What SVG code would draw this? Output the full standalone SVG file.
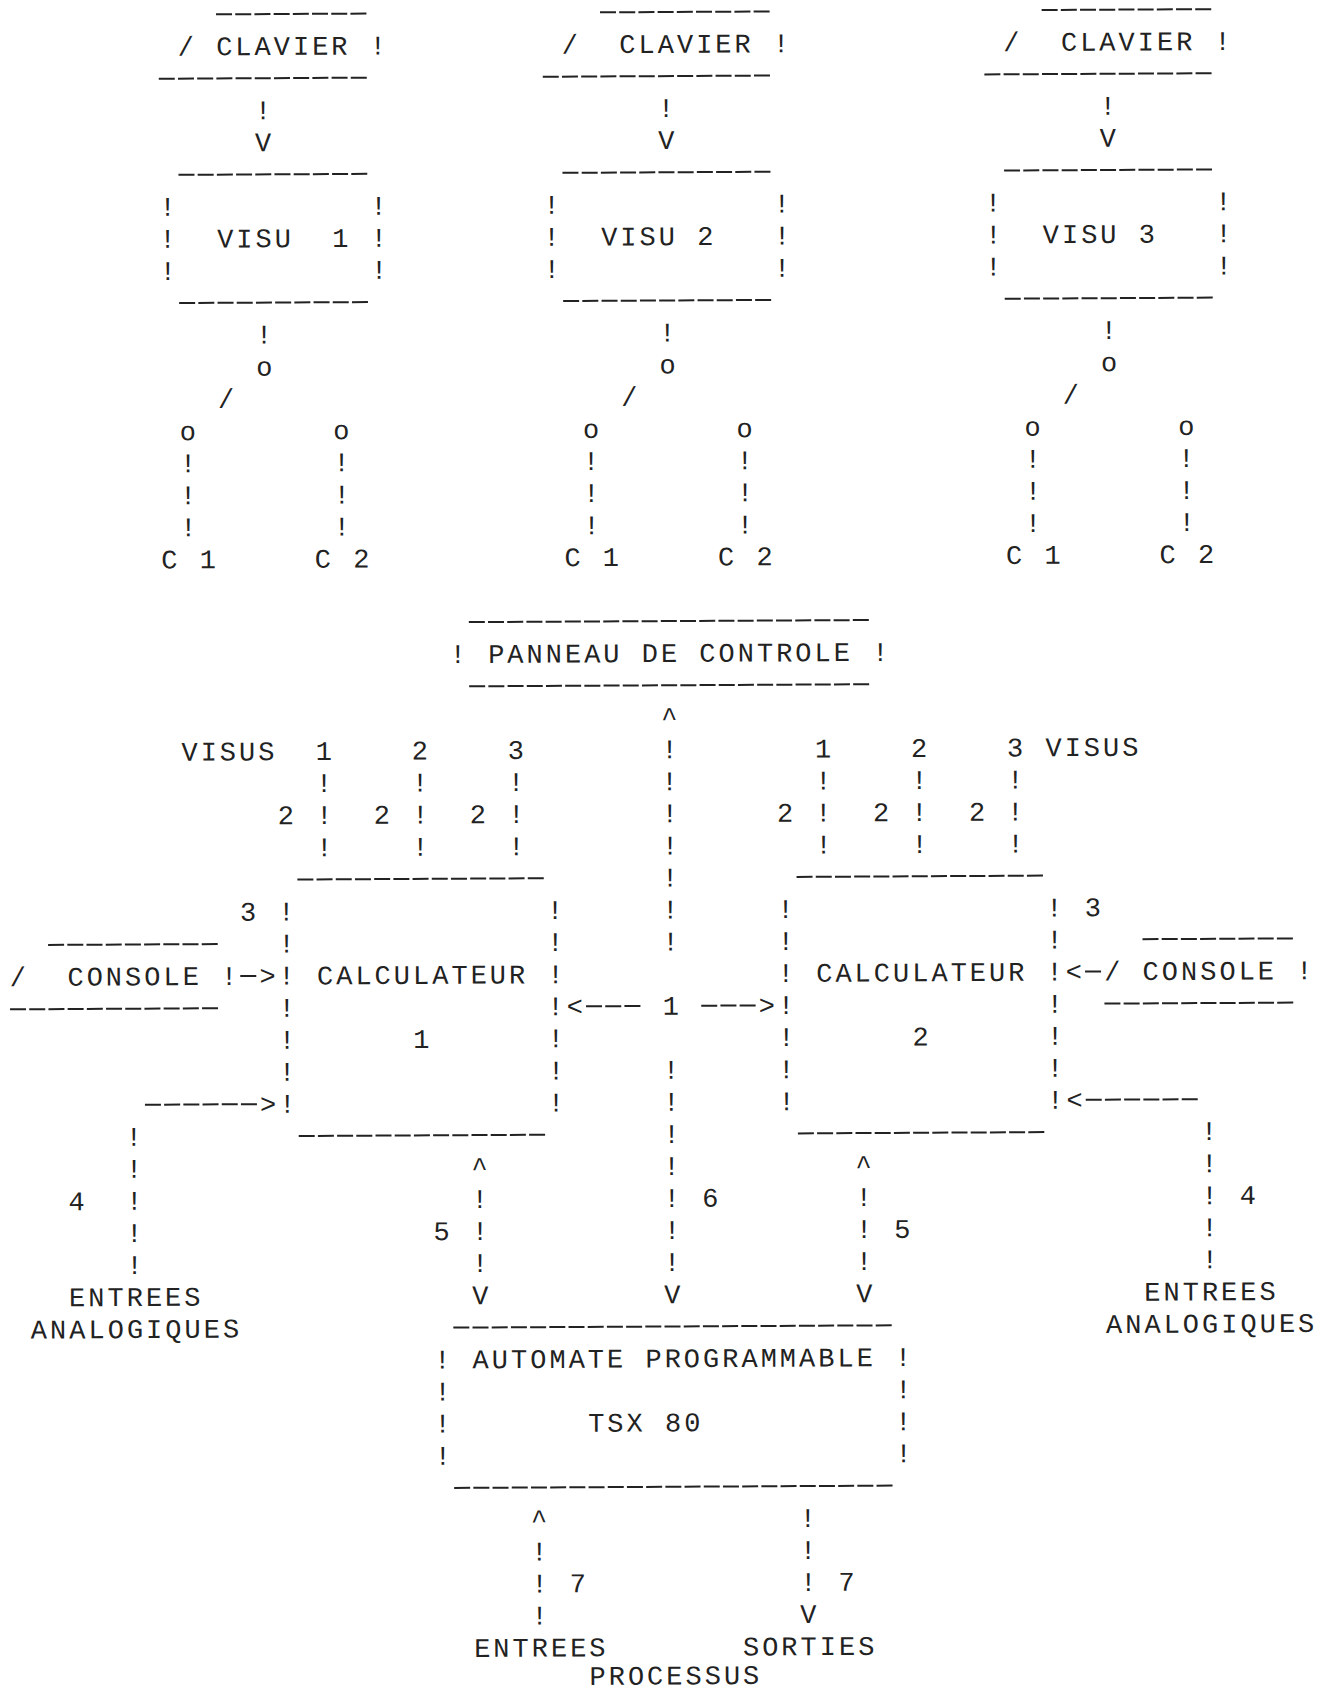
<svg xmlns="http://www.w3.org/2000/svg" width="1331" height="1692" viewBox="0 0 1331 1692">
<style>
.t{font-family:"Liberation Mono","DejaVu Sans Mono",monospace;font-size:27px;letter-spacing:3px;fill:#222}
.d{stroke:#222;stroke-width:2;stroke-dasharray:16 3.2;fill:none}
</style>
<rect width="1331" height="1692" fill="#fff"/>
<g transform="rotate(-0.3 665 846)">
<g id="clavier1">
<line class="d" x1="220.4" y1="12" x2="370.8" y2="12"/>
<line class="d" x1="162.8" y1="76.1" x2="370.8" y2="76.1"/>
<text class="t" x="181.9" y="52.9">/ CLAVIER !</text>
</g>
<g id="clavier2">
<line class="d" x1="604.4" y1="12" x2="774" y2="12"/>
<line class="d" x1="546.8" y1="76.1" x2="774" y2="76.1"/>
<text class="t" x="565.9" y="52.9" xml:space="preserve">/  CLAVIER !</text>
</g>
<g id="clavier3">
<line class="d" x1="1046" y1="12" x2="1215.6" y2="12"/>
<line class="d" x1="988.4" y1="76.1" x2="1215.6" y2="76.1"/>
<text class="t" x="1007.5" y="52.9" xml:space="preserve">/  CLAVIER !</text>
</g>
<g id="visu1">
<line class="d" x1="182" y1="172.3" x2="370.8" y2="172.3"/>
<line class="d" x1="182" y1="300.5" x2="370.8" y2="300.5"/>
<text class="t" x="162.7" y="213.2">!</text><text class="t" x="162.7" y="245.2">!</text><text class="t" x="162.7" y="277.3">!</text>
<text class="t" x="373.9" y="213.2">!</text><text class="t" x="373.9" y="245.2">!</text><text class="t" x="373.9" y="277.3">!</text>
<text class="t" x="220.3" y="245.2" xml:space="preserve">VISU  1</text>
</g>
<g id="visu2">
<line class="d" x1="566" y1="172.3" x2="774" y2="172.3"/>
<line class="d" x1="566" y1="300.5" x2="774" y2="300.5"/>
<text class="t" x="546.7" y="213.2">!</text><text class="t" x="546.7" y="245.2">!</text><text class="t" x="546.7" y="277.3">!</text>
<text class="t" x="777.1" y="213.2">!</text><text class="t" x="777.1" y="245.2">!</text><text class="t" x="777.1" y="277.3">!</text>
<text class="t" x="604.3" y="245.2">VISU 2</text>
</g>
<g id="visu3">
<line class="d" x1="1007.6" y1="172.3" x2="1215.6" y2="172.3"/>
<line class="d" x1="1007.6" y1="300.5" x2="1215.6" y2="300.5"/>
<text class="t" x="988.3" y="213.2">!</text><text class="t" x="988.3" y="245.2">!</text><text class="t" x="988.3" y="277.3">!</text>
<text class="t" x="1218.7" y="213.2">!</text><text class="t" x="1218.7" y="245.2">!</text><text class="t" x="1218.7" y="277.3">!</text>
<text class="t" x="1045.9" y="245.2">VISU 3</text>
</g>
<g id="c-labels">
<text class="t" x="162.7" y="565.8">C 1</text>
<text class="t" x="316.3" y="565.8">C 2</text>
<text class="t" x="565.9" y="565.8">C 1</text>
<text class="t" x="719.5" y="565.8">C 2</text>
<text class="t" x="1007.5" y="565.8">C 1</text>
<text class="t" x="1161.1" y="565.8">C 2</text>
</g>
<g id="panneau">
<line class="d" x1="470" y1="621.1" x2="870" y2="621.1"/>
<line class="d" x1="470" y1="685.3" x2="870" y2="685.3"/>
<text class="t" x="450.7" y="662">!</text>
<text class="t" x="489.1" y="662">PANNEAU DE CONTROLE</text>
<text class="t" x="873.1" y="662">!</text>
</g>
<g id="calculateur1">
<line class="d" x1="297.2" y1="877.6" x2="543.6" y2="877.6"/>
<line class="d" x1="297.2" y1="1134.1" x2="543.6" y2="1134.1"/>
<text class="t" x="277.9" y="918.5">!</text><text class="t" x="277.9" y="950.5">!</text><text class="t" x="277.9" y="982.6">!</text><text class="t" x="277.9" y="1014.7">!</text><text class="t" x="277.9" y="1046.7">!</text><text class="t" x="277.9" y="1078.8">!</text><text class="t" x="277.9" y="1110.8">!</text>
<text class="t" x="546.7" y="918.5">!</text><text class="t" x="546.7" y="950.5">!</text><text class="t" x="546.7" y="982.6">!</text><text class="t" x="546.7" y="1014.7">!</text><text class="t" x="546.7" y="1046.7">!</text><text class="t" x="546.7" y="1078.8">!</text><text class="t" x="546.7" y="1110.8">!</text>
<text class="t" x="316.3" y="982.6">CALCULATEUR</text>
<text class="t" x="412.3" y="1046.7">1</text>
</g>
<g id="calculateur2">
<line class="d" x1="796.4" y1="877.6" x2="1042.8" y2="877.6"/>
<line class="d" x1="796.4" y1="1134.1" x2="1042.8" y2="1134.1"/>
<text class="t" x="777.1" y="918.5">!</text><text class="t" x="777.1" y="950.5">!</text><text class="t" x="777.1" y="982.6">!</text><text class="t" x="777.1" y="1014.7">!</text><text class="t" x="777.1" y="1046.7">!</text><text class="t" x="777.1" y="1078.8">!</text><text class="t" x="777.1" y="1110.8">!</text>
<text class="t" x="1045.9" y="918.5">!</text><text class="t" x="1045.9" y="950.5">!</text><text class="t" x="1045.9" y="982.6">!</text><text class="t" x="1045.9" y="1014.7">!</text><text class="t" x="1045.9" y="1046.7">!</text><text class="t" x="1045.9" y="1078.8">!</text><text class="t" x="1045.9" y="1110.8">!</text>
<text class="t" x="815.5" y="982.6">CALCULATEUR</text>
<text class="t" x="911.5" y="1046.7">2</text>
</g>
<g id="console1">
<line class="d" x1="47.6" y1="941.7" x2="217.2" y2="941.7"/>
<line class="d" x1="9.2" y1="1005.9" x2="217.2" y2="1005.9"/>
<text class="t" x="9.1" y="982.6" xml:space="preserve">/  CONSOLE !</text>
</g>
<g id="console2">
<line class="d" x1="1142" y1="941.7" x2="1292.4" y2="941.7"/>
<line class="d" x1="1103.6" y1="1005.9" x2="1292.4" y2="1005.9"/>
<text class="t" x="1103.5" y="982.6">/ CONSOLE !</text>
</g>
<g id="entrees-analogiques1">
<text class="t" x="66.7" y="1303.2">ENTREES</text>
<text class="t" x="28.3" y="1335.3">ANALOGIQUES</text>
</g>
<g id="entrees-analogiques2">
<text class="t" x="1141.9" y="1303.2">ENTREES</text>
<text class="t" x="1103.5" y="1335.3">ANALOGIQUES</text>
</g>
<g id="automate">
<line class="d" x1="450.8" y1="1326.5" x2="889.2" y2="1326.5"/>
<line class="d" x1="450.8" y1="1486.8" x2="889.2" y2="1486.8"/>
<text class="t" x="431.5" y="1367.3">!</text><text class="t" x="431.5" y="1399.4">!</text><text class="t" x="431.5" y="1431.4">!</text><text class="t" x="431.5" y="1463.5">!</text>
<text class="t" x="892.3" y="1367.3">!</text><text class="t" x="892.3" y="1399.4">!</text><text class="t" x="892.3" y="1431.4">!</text><text class="t" x="892.3" y="1463.5">!</text>
<text class="t" x="469.9" y="1367.3">AUTOMATE PROGRAMMABLE</text>
<text class="t" x="585.1" y="1431.4">TSX 80</text>
</g>
<g id="entrees-processus">
<text class="t" x="469.9" y="1655.9">ENTREES</text>
</g>
<g id="sorties-processus">
<text class="t" x="738.7" y="1655.9">SORTIES</text>
</g>
<g id="processus">
<text class="t" x="585.1" y="1684.5">PROCESSUS</text>
</g>
<g id="connectors">
<text class="t" x="258.7" y="117">!</text><text class="t" x="258.7" y="149">V</text>
<text class="t" x="661.9" y="117">!</text><text class="t" x="661.9" y="149">V</text>
<text class="t" x="1103.5" y="117">!</text><text class="t" x="1103.5" y="149">V</text>
<text class="t" x="258.7" y="341.4">!</text><text class="t" x="258.7" y="373.5">o</text>
<text class="t" x="661.9" y="341.4">!</text><text class="t" x="661.9" y="373.5">o</text>
<text class="t" x="1103.5" y="341.4">!</text><text class="t" x="1103.5" y="373.5">o</text>
<text class="t" x="220.3" y="405.5">/</text><text class="t" x="623.5" y="405.5">/</text><text class="t" x="1065.1" y="405.5">/</text>
<text class="t" x="181.9" y="437.6">o</text><text class="t" x="335.5" y="437.6">o</text><text class="t" x="585.1" y="437.6">o</text><text class="t" x="738.7" y="437.6">o</text><text class="t" x="1026.7" y="437.6">o</text><text class="t" x="1180.3" y="437.6">o</text>
<text class="t" x="181.9" y="469.6">!</text><text class="t" x="335.5" y="469.6">!</text><text class="t" x="585.1" y="469.6">!</text><text class="t" x="738.7" y="469.6">!</text><text class="t" x="1026.7" y="469.6">!</text><text class="t" x="1180.3" y="469.6">!</text>
<text class="t" x="181.9" y="501.7">!</text><text class="t" x="335.5" y="501.7">!</text><text class="t" x="585.1" y="501.7">!</text><text class="t" x="738.7" y="501.7">!</text><text class="t" x="1026.7" y="501.7">!</text><text class="t" x="1180.3" y="501.7">!</text>
<text class="t" x="181.9" y="533.8">!</text><text class="t" x="335.5" y="533.8">!</text><text class="t" x="585.1" y="533.8">!</text><text class="t" x="738.7" y="533.8">!</text><text class="t" x="1026.7" y="533.8">!</text><text class="t" x="1180.3" y="533.8">!</text>
<text class="t" x="661.9" y="726.1">^</text>
<text class="t" x="661.9" y="758.2">!</text><text class="t" x="661.9" y="790.2">!</text><text class="t" x="661.9" y="822.3">!</text><text class="t" x="661.9" y="854.4">!</text><text class="t" x="661.9" y="886.4">!</text><text class="t" x="661.9" y="918.5">!</text><text class="t" x="661.9" y="950.5">!</text>
<text class="t" x="661.9" y="1078.8">!</text><text class="t" x="661.9" y="1110.8">!</text><text class="t" x="661.9" y="1142.9">!</text><text class="t" x="661.9" y="1175">!</text><text class="t" x="661.9" y="1207">!</text><text class="t" x="661.9" y="1239.1">!</text><text class="t" x="661.9" y="1271.1">!</text>
<text class="t" x="661.9" y="1303.2">V</text>
<text class="t" x="316.3" y="790.2">!</text><text class="t" x="412.3" y="790.2">!</text><text class="t" x="508.3" y="790.2">!</text><text class="t" x="815.5" y="790.2">!</text><text class="t" x="911.5" y="790.2">!</text><text class="t" x="1007.5" y="790.2">!</text>
<text class="t" x="316.3" y="822.3">!</text><text class="t" x="412.3" y="822.3">!</text><text class="t" x="508.3" y="822.3">!</text><text class="t" x="815.5" y="822.3">!</text><text class="t" x="911.5" y="822.3">!</text><text class="t" x="1007.5" y="822.3">!</text>
<text class="t" x="316.3" y="854.4">!</text><text class="t" x="412.3" y="854.4">!</text><text class="t" x="508.3" y="854.4">!</text><text class="t" x="815.5" y="854.4">!</text><text class="t" x="911.5" y="854.4">!</text><text class="t" x="1007.5" y="854.4">!</text>
<line class="d" x1="239.6" y1="973.8" x2="255.6" y2="973.8"/><text class="t" x="258.7" y="982.6">&gt;</text>
<text class="t" x="1065.1" y="982.6">&lt;</text><line class="d" x1="1084.4" y1="973.8" x2="1100.4" y2="973.8"/>
<text class="t" x="565.9" y="1014.7">&lt;</text><line class="d" x1="585.2" y1="1005.9" x2="639.6" y2="1005.9"/>
<line class="d" x1="700.4" y1="1005.9" x2="754.8" y2="1005.9"/><text class="t" x="757.9" y="1014.7">&gt;</text>
<line class="d" x1="143.6" y1="1102" x2="255.6" y2="1102"/><text class="t" x="258.7" y="1110.8">&gt;</text>
<text class="t" x="1065.1" y="1110.8">&lt;</text><line class="d" x1="1084.4" y1="1102" x2="1196.4" y2="1102"/>
<text class="t" x="124.3" y="1142.9">!</text><text class="t" x="124.3" y="1175">!</text><text class="t" x="124.3" y="1207">!</text><text class="t" x="124.3" y="1239.1">!</text><text class="t" x="124.3" y="1271.1">!</text>
<text class="t" x="1199.5" y="1142.9">!</text><text class="t" x="1199.5" y="1175">!</text><text class="t" x="1199.5" y="1207">!</text><text class="t" x="1199.5" y="1239.1">!</text><text class="t" x="1199.5" y="1271.1">!</text>
<text class="t" x="469.9" y="1175">^</text><text class="t" x="469.9" y="1207">!</text><text class="t" x="469.9" y="1239.1">!</text><text class="t" x="469.9" y="1271.1">!</text><text class="t" x="469.9" y="1303.2">V</text>
<text class="t" x="853.9" y="1175">^</text><text class="t" x="853.9" y="1207">!</text><text class="t" x="853.9" y="1239.1">!</text><text class="t" x="853.9" y="1271.1">!</text><text class="t" x="853.9" y="1303.2">V</text>
<text class="t" x="527.5" y="1527.6">^</text><text class="t" x="527.5" y="1559.7">!</text><text class="t" x="527.5" y="1591.7">!</text><text class="t" x="527.5" y="1623.8">!</text>
<text class="t" x="796.3" y="1527.6">!</text><text class="t" x="796.3" y="1559.7">!</text><text class="t" x="796.3" y="1591.7">!</text><text class="t" x="796.3" y="1623.8">V</text>
</g>
<g id="labels">
<text class="t" x="181.9" y="758.2">VISUS</text>
<text class="t" x="316.3" y="758.2">1</text><text class="t" x="412.3" y="758.2">2</text><text class="t" x="508.3" y="758.2">3</text>
<text class="t" x="815.5" y="758.2">1</text><text class="t" x="911.5" y="758.2">2</text><text class="t" x="1007.5" y="758.2">3</text>
<text class="t" x="1045.9" y="758.2">VISUS</text>
<text class="t" x="277.9" y="822.3">2</text><text class="t" x="373.9" y="822.3">2</text><text class="t" x="469.9" y="822.3">2</text>
<text class="t" x="777.1" y="822.3">2</text><text class="t" x="873.1" y="822.3">2</text><text class="t" x="969.1" y="822.3">2</text>
<text class="t" x="239.5" y="918.5">3</text><text class="t" x="1084.3" y="918.5">3</text>
<text class="t" x="661.9" y="1014.7">1</text>
<text class="t" x="66.7" y="1207">4</text><text class="t" x="700.3" y="1207">6</text><text class="t" x="1237.9" y="1207">4</text>
<text class="t" x="431.5" y="1239.1">5</text><text class="t" x="892.3" y="1239.1">5</text>
<text class="t" x="565.9" y="1591.7">7</text><text class="t" x="834.7" y="1591.7">7</text>
</g>
</g>
</svg>
